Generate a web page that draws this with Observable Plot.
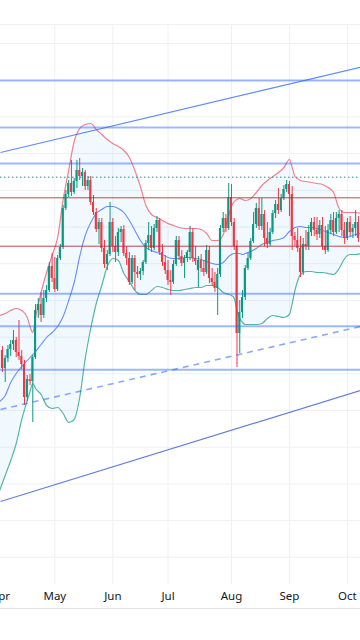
<!DOCTYPE html>
<html><head><meta charset="utf-8">
<script src="https://cdn.jsdelivr.net/npm/d3@7"></script>
<script src="https://cdn.jsdelivr.net/npm/@observablehq/plot@0.6"></script>
<style>
html,body{margin:0;padding:0;background:#fff;}
#chart{width:360px;height:640px;overflow:hidden;}
.sep{border-top:1px solid #e0e3eb;height:31px;}
</style></head><body>
<div id="chart"></div>
<script>
// ---- axis labels / ticks ----
const months = ["Apr","May","Jun","Jul","Aug","Sep","Oct"];
const monthBars = [-0.7, 19, 40, 60, 83, 104, 125];
const xDomain = [-0.7, 129.75];
const yDomain = [1.6, 57.6];
const yGrid = [4.32, 7.99, 11.66, 15.33, 19.0, 22.67, 26.34, 30.01, 33.68, 37.35, 41.02, 44.69, 48.36, 52.03, 55.7];

// ---- daily candles (bar index 0..129) ----
const open = [25.0,23.2,24.2,25.1,25.6,26.0,24.8,24.4,23.6,20.3,
22.1,21.9,24.3,29.0,29.6,28.5,30.2,31.0,33.4,32.2,
31.1,34.2,35.3,39.2,40.6,41.7,40.8,41.9,43.0,42.4,
42.8,41.4,42.0,39.8,38.8,37.1,37.8,35.2,33.6,34.6,
37.8,35.4,34.8,36.8,37.1,34.7,34.2,31.8,34.2,32.8,
32.6,32.9,33.8,35.7,36.5,35.2,37.2,38.0,34.8,33.8,
33.0,32.0,31.8,33.6,36.0,34.4,33.7,34.2,34.8,36.8,
34.2,33.0,34.0,33.2,32.8,35.0,32.2,31.8,31.2,32.6,
37.2,38.2,37.2,40.3,37.8,35.4,26.7,28.8,30.3,33.2,
34.2,35.9,37.6,39.2,37.4,38.6,36.2,35.6,36.8,38.7,
39.6,39.0,40.2,41.1,41.6,40.6,36.4,36.0,35.2,32.8,
35.6,35.4,36.8,37.8,37.0,36.6,37.5,35.4,35.0,37.0,
38.0,36.8,38.2,38.6,37.0,36.2,37.8,36.8,37.2,37.8];
const high = [25.4,24.5,25.5,26.0,27.0,26.3,28.0,25.0,24.0,22.5,
22.6,24.5,29.6,30.2,30.8,31.0,31.5,33.8,34.7,34.3,
34.5,35.6,39.5,41.0,42.0,44.0,42.2,44.0,44.2,43.2,
43.0,42.4,42.4,40.5,39.2,38.2,38.2,36.0,35.0,39.8,
38.2,36.4,37.2,37.4,37.5,35.4,34.8,34.5,34.5,33.4,
33.2,34.0,36.0,37.8,37.4,37.6,38.4,38.2,35.6,34.5,
34.0,33.0,34.0,36.4,36.4,35.0,34.5,35.0,37.4,37.2,
35.4,34.4,34.6,34.0,35.5,35.4,33.2,32.8,33.2,37.5,
38.8,38.6,41.7,41.6,38.2,36.0,30.0,31.0,33.5,34.7,
36.2,38.8,39.7,40.2,40.2,39.0,37.8,37.2,39.0,40.0,
41.2,40.6,41.5,42.0,41.9,41.4,36.8,37.2,36.4,36.2,
37.0,37.5,38.2,38.3,38.3,38.0,38.3,37.4,37.6,38.6,
38.8,38.8,39.0,39.0,37.8,38.2,38.4,37.6,39.0,38.4];
const low = [22.8,21.8,23.8,24.4,25.0,24.3,24.0,23.1,19.5,19.9,
21.5,17.8,24.1,28.2,27.8,28.2,29.8,30.8,31.8,30.8,
30.9,34.0,35.1,39.0,40.3,40.4,40.6,41.2,42.0,41.4,
41.0,41.0,39.5,38.5,36.8,35.6,34.8,33.2,33.0,34.4,
34.8,33.8,34.4,35.8,34.4,33.5,31.5,31.6,31.0,32.2,
32.0,32.5,33.6,35.0,34.8,35.0,36.8,34.5,33.4,32.6,
31.5,30.5,31.6,33.4,34.0,33.4,32.2,33.8,34.0,33.8,
33.5,31.3,32.8,32.4,32.6,31.7,31.4,30.8,28.5,32.3,
36.8,36.8,37.0,37.4,35.0,23.3,24.7,28.2,30.0,33.0,
34.0,35.7,37.2,37.0,37.0,35.4,35.2,35.4,36.6,38.2,
38.6,38.8,40.0,40.8,38.4,35.0,35.4,34.8,32.3,32.5,
35.0,35.0,36.4,36.4,36.0,36.2,35.0,34.6,34.8,36.6,
36.4,36.6,36.8,36.4,35.6,36.0,36.4,36.2,36.4,35.8];
const close = [23.2,24.2,25.1,25.6,26.0,24.8,24.4,23.6,20.3,22.1,
21.9,24.3,29.0,29.6,28.5,30.2,31.0,33.4,32.2,31.1,
34.2,35.3,39.2,40.6,41.7,40.8,41.9,43.0,42.4,42.8,
41.4,42.0,39.8,38.8,37.1,37.8,35.2,33.6,34.6,37.8,
35.4,34.8,36.8,37.1,34.7,34.2,31.8,34.2,32.8,32.6,
32.9,33.8,35.7,36.5,35.2,37.2,38.0,34.8,33.8,33.0,
32.0,31.8,33.6,36.0,34.4,33.7,34.2,34.8,36.8,34.2,
33.9,34.0,33.2,32.8,35.0,32.2,31.8,31.2,32.6,37.2,
38.2,37.2,40.3,37.8,35.4,26.7,28.8,30.3,33.2,34.2,
35.9,37.6,39.2,37.4,38.6,36.2,35.6,36.8,38.7,39.6,
39.0,40.2,41.1,41.6,40.6,36.4,36.0,35.2,32.8,35.6,
35.4,36.8,37.8,37.0,36.6,37.5,35.4,35.0,37.0,38.0,
36.8,38.2,38.6,37.0,36.2,37.8,36.8,37.2,37.8,36.2];

// ---- Bollinger bands, read at these bar indices ----
const bandBars = [-1,1,3,5,7,9,10,11,12,14,16,18,20,22,24,26,28,30,32,34,36,38,40,42,44,46,48,50,52,54,56,58,60,62,64,66,68,70,72,74,76,78,80,82,83,84,85,86,87,88,90,92,94,96,98,100,102,104,105,106,108,110,112,114,116,118,120,122,124,126,128,130];
const bbUpper = [28.5,28.7,29.0,29.2,29.0,28.3,27.4,26.8,28.3,30.8,32.8,34.5,36.3,40.1,43.0,45.9,47.2,47.6,47.7,47.1,46.6,46.1,45.7,45.4,45.0,44.3,43.0,41.4,39.5,38.6,38.3,38.0,37.7,37.5,37.3,37.2,37.2,37.2,37.1,36.7,36.0,36.0,36.6,38.5,39.4,39.9,40.1,40.2,40.1,40.0,40.2,40.8,41.5,42.0,42.4,42.8,43.3,44.1,43.3,42.4,42.0,41.9,41.8,41.7,41.6,41.3,40.8,39.2,38.8,38.8,38.8,38.7];
const bbBasis = [19.9,20.5,21.8,22.7,23.4,24.0,24.3,24.6,24.9,25.6,26.3,26.8,27.4,28.4,30.0,31.8,34.4,36.5,37.8,38.7,39.1,39.4,39.4,39.2,38.8,38.0,37.0,36.0,35.3,35.0,34.8,34.6,34.3,34.2,34.2,34.3,34.3,34.2,34.1,33.9,33.7,33.6,33.8,34.4,34.6,34.7,34.7,34.7,34.6,34.7,34.9,35.2,35.6,35.8,36.0,36.1,36.3,36.9,37.1,37.3,37.4,37.3,37.3,37.2,37.0,36.8,36.6,36.4,36.3,36.4,36.6,36.7];
const bbLower = [11.0,12.5,14.0,15.7,18.1,20.0,20.9,21.7,21.2,20.6,19.5,19.2,19.3,18.7,17.8,18.1,20.3,24.2,27.2,29.7,31.5,33.4,34.2,34.0,32.7,31.9,31.0,30.6,30.6,31.0,31.4,31.3,31.1,31.0,31.0,31.1,31.2,31.3,31.3,31.5,31.5,31.3,30.8,30.6,30.5,30.2,29.0,28.2,27.8,27.6,27.6,27.6,27.7,28.2,28.5,28.4,28.3,28.6,29.7,31.0,32.6,32.9,32.9,32.8,32.8,32.7,32.6,33.2,34.2,34.6,34.6,34.7];

// ---- drawn levels and trend lines ----
const blueLevels = [52.0, 47.3, 43.7, 30.67, 27.43, 23.07];
const redLevels = [40.27, 35.43];
const dottedLevels = [42.33];
const trendNames = ["upper", "dashed", "lower"];
const trendStart = [44.8, 19.1, 9.9];
const trendEnd = [53.33, 27.4, 21.0];

const UP = "#089981", DOWN = "#f23645";
const bars = open.map((o, i) => ({i, open: o, high: high[i], low: low[i], close: close[i], color: close[i] >= o ? UP : DOWN}));
const band = bandBars.map((b, k) => ({i: b, upper: bbUpper[k], basis: bbBasis[k], lower: bbLower[k]}));
const trends = trendNames.map((n, k) => ({name: n, x1: xDomain[0], x2: xDomain[1], y1: trendStart[k], y2: trendEnd[k]}));
const trendStyle = {
  upper: {stroke: "#2962ff", op: 0.75, w: 1.2, dash: null},
  dashed: {stroke: "#2962ff", op: 0.55, w: 1.6, dash: "6,5"},
  lower: {stroke: "#2f4fd0", op: 0.75, w: 1.2, dash: null}
};

const gridColor = "#eef0f4";
const chart = Plot.plot({
  width: 360, height: 608,
  marginTop: 24, marginBottom: 24, marginLeft: 0, marginRight: 0,
  style: {fontFamily: "'Noto Sans', 'DejaVu Sans', sans-serif", fontSize: "11px", color: "#131722", background: "#fff", overflow: "visible"},
  x: {domain: xDomain, axis: null},
  y: {domain: yDomain, axis: null},
  marks: [
    Plot.ruleY(yGrid, {stroke: gridColor}),
    Plot.ruleY([yDomain[1]], {stroke: gridColor}),
    Plot.ruleX(monthBars.slice(1), {stroke: gridColor}),
    Plot.areaY(band, {x: "i", y1: "lower", y2: "upper", fill: "#2196f3", fillOpacity: 0.06, curve: "monotone-x", clip: true}),
    Plot.line(band, {x: "i", y: "upper", stroke: "#f23645", strokeOpacity: 0.62, strokeWidth: 1.2, curve: "monotone-x", clip: true}),
    Plot.line(band, {x: "i", y: "basis", stroke: "#2962ff", strokeOpacity: 0.7, strokeWidth: 1.1, curve: "monotone-x", clip: true}),
    Plot.line(band, {x: "i", y: "lower", stroke: "#089981", strokeOpacity: 0.7, strokeWidth: 1.2, curve: "monotone-x", clip: true}),
    Plot.ruleX(bars, {x: "i", y1: "low", y2: "high", stroke: "color", strokeWidth: 1}),
    Plot.rect(bars, {x1: d => d.i - 0.37, x2: d => d.i + 0.37, y1: "open", y2: "close", fill: "color"}),
    Plot.ruleY(blueLevels, {stroke: "#2962ff", strokeOpacity: 0.45, strokeWidth: 2}),
    Plot.ruleY(redLevels, {stroke: "#b22833", strokeOpacity: 0.85, strokeWidth: 1}),
    Plot.ruleY(dottedLevels, {stroke: "#089981", strokeWidth: 1, strokeDasharray: "1.5,2.5"}),
    ...trendNames.map(n => Plot.link(trends.filter(t => t.name === n), {
      x1: "x1", y1: "y1", x2: "x2", y2: "y2",
      stroke: trendStyle[n].stroke, strokeOpacity: trendStyle[n].op, strokeWidth: trendStyle[n].w,
      strokeDasharray: trendStyle[n].dash, clip: true
    })),
    Plot.axisX({ticks: monthBars, tickFormat: d => months[monthBars.indexOf(d)], tickSize: 0, tickPadding: 7, fontSize: 11.5, fill: "#131722"})
  ]
});
const host = document.getElementById("chart");
host.appendChild(chart);
const sep = document.createElement("div");
sep.className = "sep";
host.appendChild(sep);
</script>
</body></html>
